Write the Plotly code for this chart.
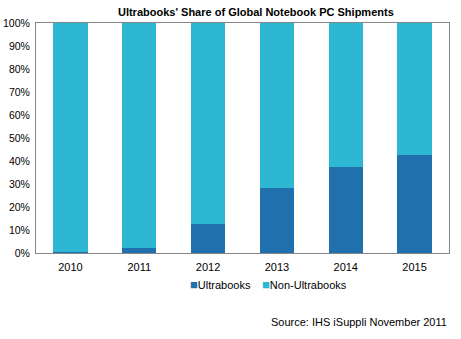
import plotly.graph_objects as go

years = ["2010", "2011", "2012", "2013", "2014", "2015"]
ultrabooks = [0.5, 2.0, 12.5, 28.3, 37.4, 42.7]
non_ultrabooks = [100 - v for v in ultrabooks]
series_names = ["Ultrabooks", "Non-Ultrabooks"]

DARK = "#1F70AD"
LIGHT = "#2DB7D3"
FONT = "Liberation Sans, Arial, sans-serif"

fig = go.Figure()
fig.add_trace(go.Bar(x=years, y=ultrabooks, name=series_names[0],
                     marker=dict(color=DARK, line=dict(width=0)),
                     showlegend=False))
fig.add_trace(go.Bar(x=years, y=non_ultrabooks, name=series_names[1],
                     marker=dict(color=LIGHT, line=dict(width=0)),
                     showlegend=False))

fig.update_layout(
    width=461, height=339,
    barmode="stack", bargap=0.5,
    plot_bgcolor="white", paper_bgcolor="white",
    margin=dict(l=36, r=12, t=23, b=86),
    font=dict(family=FONT, size=11, color="#000000"),
    title=dict(text="<b>Ultrabooks' Share of Global Notebook PC Shipments</b>",
               x=0.555, xanchor="center", y=0.965, yanchor="middle",
               font=dict(family=FONT, size=11, color="#000000")),
)
fig.update_xaxes(showline=True, linecolor="#868686", linewidth=1, mirror=True,
                 showgrid=False, ticks="", tickfont=dict(size=11),
                 automargin=False, ticklabelstandoff=4)
fig.update_yaxes(range=[0, 100], dtick=10, ticksuffix="%", showline=True,
                 linecolor="#868686", linewidth=1, mirror=True, showgrid=False,
                 ticks="", zeroline=False, tickfont=dict(size=10.5),
                 automargin=False, ticklabelstandoff=3)

# compact legend: small coloured square followed by the series name
for name, color, xpos in zip(series_names, [DARK, LIGHT], [0.369, 0.543]):
    fig.add_annotation(
        text=f"<span style='color:{color};font-size:13px'>■</span>{name}",
        xref="paper", yref="paper", x=xpos, y=-0.139,
        xanchor="left", yanchor="middle", showarrow=False,
        font=dict(family=FONT, size=11, color="#000000"))

fig.add_annotation(text="Source: IHS iSuppli November 2011", xref="paper",
                   yref="paper", x=1.0, y=-0.3, xanchor="right",
                   yanchor="middle", showarrow=False,
                   font=dict(family=FONT, size=11, color="#000000"))

fig.write_html("out.html")
